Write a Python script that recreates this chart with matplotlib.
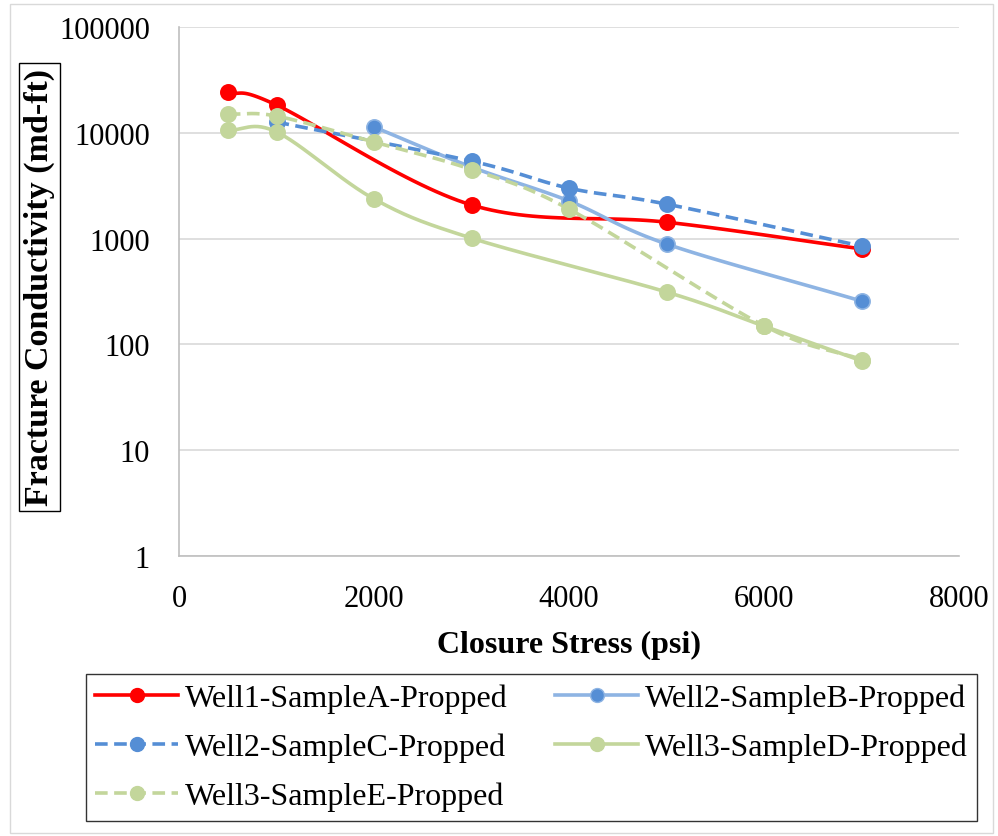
import matplotlib
matplotlib.use("Agg")
import matplotlib.pyplot as plt
import numpy as np

plt.rcParams.update({
    "font.family": "Liberation Serif",
    "font.size": 22,
})

# closure stress (psi) / fracture conductivity (md-ft) per sample
a_x = [500, 1000, 3000, 5000, 7000]
a_y = [24300, 18300, 2080, 1430, 800]

b_x = [2000, 3000, 4000, 5000, 7000]
b_y = [11350, 4750, 2270, 890, 257]

c_x = [1000, 3000, 4000, 5000, 7000]
c_y = [12650, 5400, 3000, 2120, 850]

d_x = [500, 1000, 2000, 3000, 5000, 6000, 7000]
d_y = [10600, 10200, 2370, 1010, 313, 149, 70]

e_x = [500, 1000, 2000, 3000, 4000, 6000, 7000]
e_y = [15050, 14400, 8180, 4500, 1900, 150, 72]

labels = ["Well1-SampleA-Propped", "Well2-SampleB-Propped",
          "Well2-SampleC-Propped", "Well3-SampleD-Propped",
          "Well3-SampleE-Propped"]

RED = "#FF0000"
BLUE = "#558ED5"
LIGHT_BLUE = "#8EB4E3"
GREEN = "#C3D69B"
DASH = (0, (3.5, 1.8))


def smooth(xs, ys, n=30):
    # Catmull-Rom through the points, done in (x, log y) so it looks right on a log axis
    x = np.asarray(xs, float)
    y = np.log10(np.asarray(ys, float))
    px = np.concatenate([[2 * x[0] - x[1]], x, [2 * x[-1] - x[-2]]])
    py = np.concatenate([[2 * y[0] - y[1]], y, [2 * y[-1] - y[-2]]])
    out_x, out_y = [], []
    t = np.linspace(0, 1, n)
    for i in range(1, len(px) - 2):
        p0, p1, p2, p3 = px[i - 1], px[i], px[i + 1], px[i + 2]
        q0, q1, q2, q3 = py[i - 1], py[i], py[i + 1], py[i + 2]
        # bezier control points (tension 1/6, as spreadsheet smoothing does)
        c1x, c1y = p1 + (p2 - p0) / 6, q1 + (q2 - q0) / 6
        c2x, c2y = p2 - (p3 - p1) / 6, q2 - (q3 - q1) / 6
        bx = (1 - t) ** 3 * p1 + 3 * (1 - t) ** 2 * t * c1x + 3 * (1 - t) * t ** 2 * c2x + t ** 3 * p2
        by = (1 - t) ** 3 * q1 + 3 * (1 - t) ** 2 * t * c1y + 3 * (1 - t) * t ** 2 * c2y + t ** 3 * q2
        out_x.extend(bx)
        out_y.extend(by)
    return np.array(out_x), 10 ** np.array(out_y)


fig = plt.figure(figsize=(9.98, 8.37), dpi=100)
ax = fig.add_axes([0.1794, 0.3345, 0.7816, 0.632])

series = [
    (a_x, a_y, RED, "-", RED, RED),
    (b_x, b_y, LIGHT_BLUE, "-", BLUE, LIGHT_BLUE),
    (c_x, c_y, BLUE, DASH, BLUE, BLUE),
    (d_x, d_y, GREEN, "-", GREEN, GREEN),
    (e_x, e_y, GREEN, DASH, GREEN, GREEN),
]

handles = []
for (xs, ys, lc, ls, mfc, mec), lab in zip(series, labels):
    sx, sy = smooth(xs, ys)
    ax.plot(sx, sy, color=lc, ls=ls, lw=2.6, zorder=3)
    ax.plot(xs, ys, ls="none", marker="o", ms=11, mfc=mfc, mec=mec,
            mew=1.2, zorder=4)
    h, = ax.plot([], [], color=lc, ls=ls, lw=2.6, marker="o", ms=10,
                 mfc=mfc, mec=mec, label=lab)
    handles.append(h)

ax.set_yscale("log")
ax.set_ylim(1, 100000)
ax.set_xlim(0, 8000)
ax.set_xticks([0, 2000, 4000, 6000, 8000])
ax.set_yticks([1, 10, 100, 1000, 10000, 100000])
ax.set_yticklabels(["1", "10", "100", "1000", "10000", "100000"])
ax.minorticks_off()
ax.tick_params(length=0, labelsize=22)
ax.tick_params(axis="y", pad=21)
ax.tick_params(axis="x", pad=20)
ax.grid(axis="y", color="#D9D9D9", lw=1.2)
ax.set_axisbelow(True)
for s in ["top", "right"]:
    ax.spines[s].set_visible(False)
for s in ["left", "bottom"]:
    ax.spines[s].set_color("#BFBFBF")
    ax.spines[s].set_linewidth(1.2)

ax.set_xlabel("Closure Stress (psi)", fontsize=23, fontweight="bold", labelpad=12)
fig.text(0.0395, 0.656, "Fracture Conductivity (md-ft)", rotation=90,
         ha="center", va="center", fontsize=24.5, fontweight="bold",
         bbox=dict(boxstyle="square,pad=0.15", fc="white", ec="black", lw=1))

# legend rows: A B / C D / E
order = [0, 2, 4, 1, 3]
leg = fig.legend([handles[i] for i in order], [labels[i] for i in order],
                 ncol=2, loc="lower left", bbox_to_anchor=(0.086, 0.018, 0.893, 0.188),
                 mode="expand", fontsize=23, frameon=True, fancybox=False,
                 edgecolor="black", handlelength=2.6, handletextpad=0.2,
                 columnspacing=0.8, labelspacing=0.62, borderaxespad=0,
                 borderpad=0.3)
leg.get_frame().set_linewidth(1.0)

# faint outer border of the chart area
fig.add_artist(plt.Rectangle((0.01, 0.004), 0.985, 0.99, transform=fig.transFigure,
                             fill=False, ec="#D9D9D9", lw=1))

fig.savefig("out.png", dpi=100)
